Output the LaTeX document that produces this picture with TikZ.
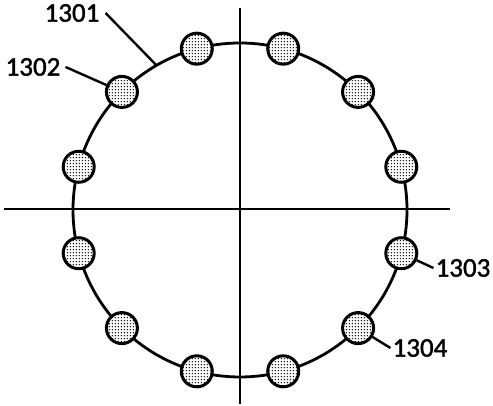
\documentclass[tikz,border=0pt]{standalone}
\usepackage{fontspec}
\setmainfont[FakeBold=1.5]{Carlito}
\usetikzlibrary{patterns,calc}

\pgfdeclarepatternformonly{stipple}{\pgfpointorigin}{\pgfpoint{3.2pt}{3.2pt}}{\pgfpoint{3.2pt}{3.2pt}}{
  \pgfpathcircle{\pgfpoint{1.6pt}{1.6pt}}{0.9pt}
  \pgfusepath{fill}
}

\begin{document}
\begin{tikzpicture}[
		x=1pt, y=1pt,
		bead/.style={circle, draw, line width=3pt, minimum size=31pt, inner sep=0pt,
			preaction={fill=white}, pattern=stipple},
		tag/.style={font=\fontsize{27}{27}\selectfont, inner sep=0pt},
		lead/.style={line width=2.4pt}
	]
  \useasboundingbox (0,0) rectangle (493,406);
  \coordinate (o) at (240,196);
  \draw [line width=2.2pt] (4,197) -- (450,197);
  \draw [line width=2.2pt] (240,398) -- (240,2);
  \draw [line width=2.8pt] (o) circle (167);
  \coordinate (c1301) at ($(o)+(120:167)$);
  \foreach \i in {0,...,11}
    \node [bead] (b\i) at ($(o)+({15+30*\i}:167)$) {};
  \node (l1301) [tag] at (72,393) {1301};
  \node (l1302) [tag] at (33,339) {1302};
  \node (l1303) [tag] at (463,138) {1303};
  \node (l1304) [tag] at (420,58) {1304};
  \draw [lead] ([xshift=6pt]l1301.east) -- (c1301);
  \draw [lead] ([xshift=5pt]l1302.east) -- (b4);
  \draw [lead] (b11) -- ([xshift=-2pt]l1303.west);
  \draw [lead] (b10) -- ([xshift=-2pt]l1304.west);
\end{tikzpicture}
\end{document}
